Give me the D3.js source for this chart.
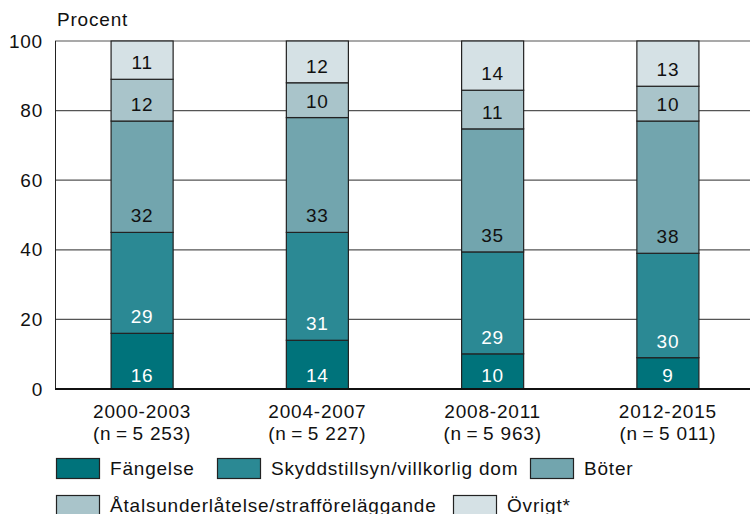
<!DOCTYPE html>
<html>
<head>
<meta charset="utf-8">
<script src="https://cdn.jsdelivr.net/npm/d3@7"></script>
<style>
  body { margin: 0; background: #fff; }
  text { font-family: "Liberation Sans", Arial, sans-serif; font-size: 19px; letter-spacing: 0.8px; }
</style>
</head>
<body>
<div id="chart"></div>
<script>
// data
var periods = ["2000-2003", "2004-2007", "2008-2011", "2012-2015"];
var sampleSizes = ["(n\u2009=\u20095 253)", "(n\u2009=\u20095 227)", "(n\u2009=\u20095 963)", "(n\u2009=\u20095 011)"];
var categories = ["Fängelse", "Skyddstillsyn/villkorlig dom", "Böter", "Åtalsunderlåtelse/strafföreläggande", "Övrigt*"];
var fangelse = [16, 14, 10, 9];
var skydd = [29, 31, 29, 30];
var boter = [32, 33, 35, 38];
var atal = [12, 10, 11, 10];
var ovrigt = [11, 12, 14, 13];
var yTicks = [0, 20, 40, 60, 80, 100];

var colors = ["#00737b", "#2b8994", "#72a5ae", "#a9c4ca", "#d5e1e5"];
var labelColors = ["#fff", "#fff", "#111", "#111", "#111"];

var svgWidth = 750, svgHeight = 514;

var svg = d3.select("#chart").append("svg")
    .attr("width", svgWidth)
    .attr("height", svgHeight);

var x = d3.scaleBand()
    .domain(periods)
    .range([55, 755])
    .paddingInner(0.646)
    .paddingOuter(0.32);

// stack is expanded to 0..1 (rounded shares don't always sum to 100)
var y = d3.scaleLinear()
    .domain([0, 100])
    .range([389, 41]);
var yShare = d3.scaleLinear()
    .domain([0, 1])
    .range([389, 41]);

var keys = ["s0", "s1", "s2", "s3", "s4"];
var table = periods.map(function(p, i) {
    return { period: p, s0: fangelse[i], s1: skydd[i], s2: boter[i], s3: atal[i], s4: ovrigt[i] };
});
var series = d3.stack().keys(keys).offset(d3.stackOffsetExpand)(table);

// gridlines
svg.append("g")
    .selectAll("line")
    .data(yTicks.filter(function(d) { return d > 0; }))
    .enter().append("line")
    .attr("x1", 55).attr("x2", svgWidth)
    .attr("y1", function(d) { return y(d); })
    .attr("y2", function(d) { return y(d); })
    .attr("stroke", "#555")
    .attr("stroke-width", 1.2);

// y axis labels
var yAxis = d3.axisLeft(y).tickValues(yTicks).tickSize(0).tickPadding(12);
var yg = svg.append("g")
    .attr("transform", "translate(55,0)")
    .call(yAxis);
yg.select(".domain").remove();
yg.selectAll("text")
    .attr("font-size", "19px")
    .attr("font-family", "Liberation Sans, Arial, sans-serif")
    .attr("fill", "#111");

svg.append("line")
    .attr("x1", 55.5).attr("x2", 55.5)
    .attr("y1", y(100)).attr("y2", y(0))
    .attr("stroke", "#222").attr("stroke-width", 1);

svg.append("text")
    .attr("x", 57).attr("y", 26)
    .attr("fill", "#111")
    .text("Procent");

// bars
var groups = svg.append("g").selectAll("g")
    .data(series)
    .enter().append("g")
    .attr("fill", function(d, i) { return colors[i]; });

groups.selectAll("rect")
    .data(function(d) { return d; })
    .enter().append("rect")
    .attr("x", function(d) { return x(d.data.period); })
    .attr("width", x.bandwidth())
    .attr("y", function(d) { return yShare(d[1]); })
    .attr("height", function(d) { return yShare(d[0]) - yShare(d[1]); })
    .attr("stroke", "#222")
    .attr("stroke-width", 1.2);

// value labels, placed near bottom of each segment
series.forEach(function(s) {
    var si = s.index;
    svg.append("g").selectAll("text")
        .data(s)
        .enter().append("text")
        .attr("x", function(d) { return x(d.data.period) + x.bandwidth() / 2; })
        .attr("y", function(d) { return yShare(d[0]) - (si === 0 ? 7 : 10); })
        .attr("text-anchor", "middle")
        .attr("fill", labelColors[si])
        .text(function(d) { return d.data[s.key]; });
});

// baseline
svg.append("line")
    .attr("x1", 55).attr("x2", svgWidth)
    .attr("y1", y(0)).attr("y2", y(0))
    .attr("stroke", "#111").attr("stroke-width", 2);

// x labels
var xl = svg.append("g").selectAll("text")
    .data(periods)
    .enter().append("text")
    .attr("text-anchor", "middle")
    .attr("fill", "#111");
xl.append("tspan")
    .attr("x", function(d) { return x(d) + x.bandwidth() / 2; })
    .attr("y", 418)
    .text(function(d) { return d; });
xl.append("tspan")
    .attr("x", function(d) { return x(d) + x.bandwidth() / 2; })
    .attr("y", 440)
    .text(function(d, i) { return sampleSizes[i]; });

// legend
var legendPos = [[56, 458], [217, 458], [530, 458], [56, 495], [453, 495]];
var legend = svg.append("g").selectAll("g")
    .data(categories)
    .enter().append("g")
    .attr("transform", function(d, i) { return "translate(" + legendPos[i][0] + "," + legendPos[i][1] + ")"; });
legend.append("rect")
    .attr("x", 0.5).attr("y", 0.5)
    .attr("width", 43).attr("height", 20)
    .attr("fill", function(d, i) { return colors[i]; })
    .attr("stroke", "#222")
    .attr("stroke-width", 1.2);
legend.append("text")
    .attr("x", 54).attr("y", 17)
    .attr("fill", "#111")
    .text(function(d) { return d; });
</script>
</body>
</html>
